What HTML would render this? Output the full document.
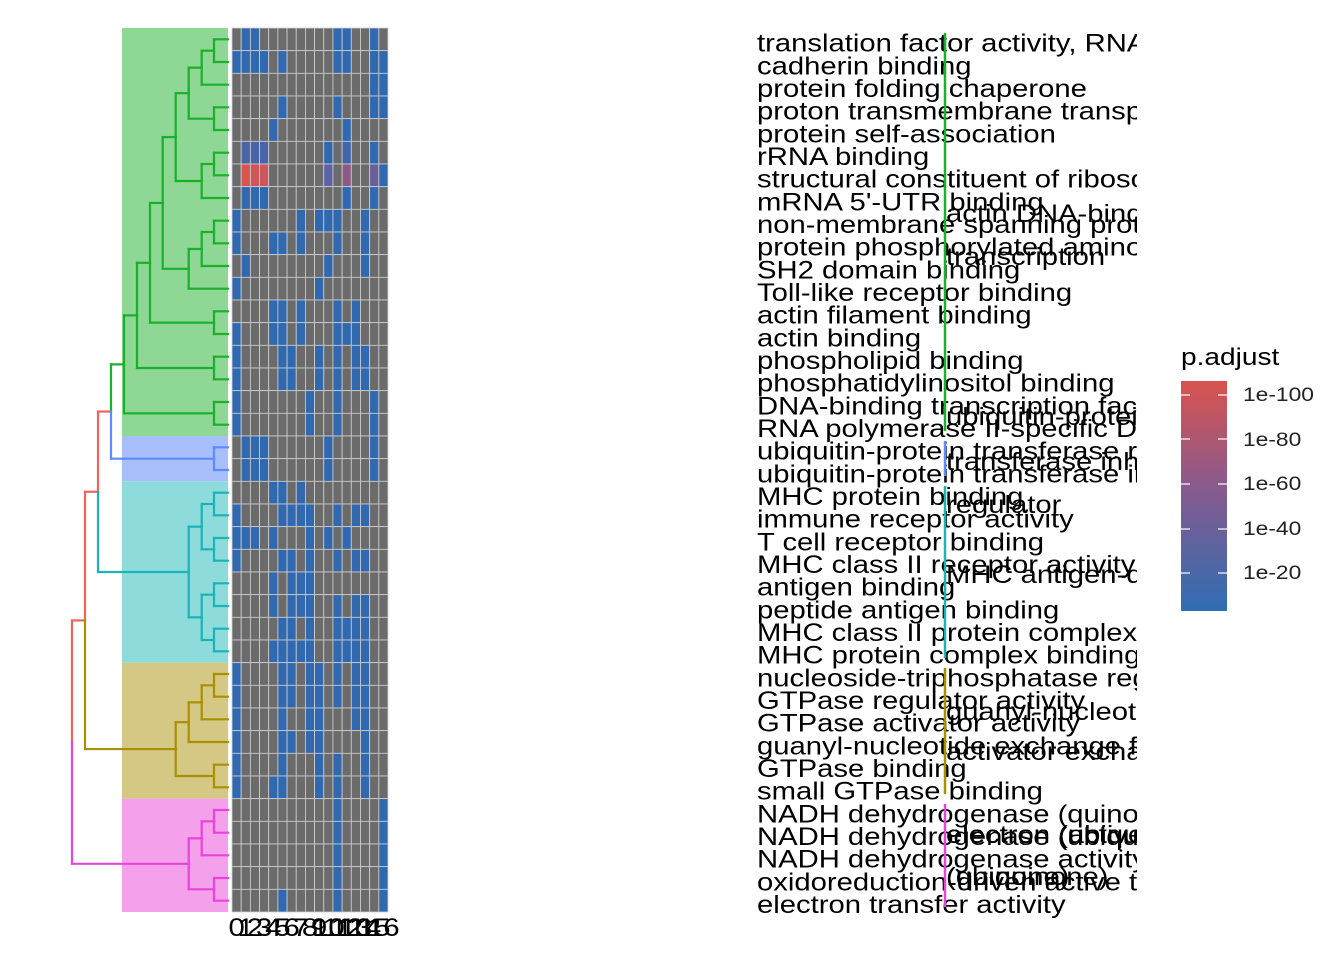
<!DOCTYPE html>
<html><head><meta charset="utf-8"><style>
html,body{margin:0;padding:0;background:#fff;}
svg{display:block;}
text{font-family:"Liberation Sans",Arial,sans-serif;}
</style></head><body>
<svg id="s" width="1344" height="960" viewBox="0 0 1344 960" xmlns="http://www.w3.org/2000/svg">
<defs>
<linearGradient id="lg" x1="0" y1="0" x2="0" y2="1">
<stop offset="0" stop-color="#d9534f"/>
<stop offset="0.45" stop-color="#8a5a8c"/>
<stop offset="1" stop-color="#2f6db3"/>
</linearGradient>
<clipPath id="cl"><rect x="700" y="0" width="437" height="960"/></clipPath>
</defs>
<rect x="122" y="28" width="106" height="408" fill="#8ed794"/>
<rect x="122" y="436" width="106" height="45.3" fill="#a8bffb"/>
<rect x="122" y="481.3" width="106" height="181.4" fill="#8edbdb"/>
<rect x="122" y="662.7" width="106" height="136" fill="#d4c884"/>
<rect x="122" y="798.7" width="106" height="113.3" fill="#f4a0ea"/>
<g id="heat"></g>
<g id="dend" fill="none" stroke-width="2.2" stroke-linecap="square"></g>
<g id="axis" font-size="25" text-anchor="middle"></g>
<g clip-path="url(#cl)">
<g font-size="25" fill="#000" transform="translate(757 0) scale(1.17 1) translate(-757 0)">
<text x="757" y="51.7">translation factor activity, RNA binding</text>
<text x="757" y="74.4">cadherin binding</text>
<text x="757" y="97">protein folding chaperone</text>
<text x="757" y="119.7">proton transmembrane transporter activity</text>
<text x="757" y="142.4">protein self-association</text>
<text x="757" y="165">rRNA binding</text>
<text x="757" y="187.7">structural constituent of ribosome</text>
<text x="757" y="210.4">mRNA 5'-UTR binding</text>
<text x="757" y="233">non-membrane spanning protein tyrosine kinase activity</text>
<text x="757" y="255.7">protein phosphorylated amino acid binding</text>
<text x="757" y="278.4">SH2 domain binding</text>
<text x="757" y="301">Toll-like receptor binding</text>
<text x="757" y="323.7">actin filament binding</text>
<text x="757" y="346.4">actin binding</text>
<text x="757" y="369">phospholipid binding</text>
<text x="757" y="391.7">phosphatidylinositol binding</text>
<text x="757" y="414.4">DNA-binding transcription factor binding</text>
<text x="757" y="437">RNA polymerase II-specific DNA-binding</text>
<text x="757" y="459.7">ubiquitin-protein transferase regulator</text>
<text x="757" y="482.4">ubiquitin-protein transferase inhibitor</text>
<text x="757" y="505">MHC protein binding</text>
<text x="757" y="527.7">immune receptor activity</text>
<text x="757" y="550.4">T cell receptor binding</text>
<text x="757" y="573">MHC class II receptor activity</text>
<text x="757" y="595.7">antigen binding</text>
<text x="757" y="618.4">peptide antigen binding</text>
<text x="757" y="641">MHC class II protein complex binding</text>
<text x="757" y="663.7">MHC protein complex binding</text>
<text x="757" y="686.4">nucleoside-triphosphatase regulator activity</text>
<text x="757" y="709">GTPase regulator activity</text>
<text x="757" y="731.7">GTPase activator activity</text>
<text x="757" y="754.4">guanyl-nucleotide exchange factor activity</text>
<text x="757" y="777">GTPase binding</text>
<text x="757" y="799.7">small GTPase binding</text>
<text x="757" y="822.4">NADH dehydrogenase (quinone) activity</text>
<text x="757" y="845">NADH dehydrogenase (ubiquinone) activity</text>
<text x="757" y="867.7">NADH dehydrogenase activity</text>
<text x="757" y="890.4">oxidoreduction-driven active transport</text>
<text x="757" y="913">electron transfer activity</text>
</g>
<g font-size="25" fill="#000" transform="translate(946 0) scale(1.17 1) translate(-946 0)">
<text x="946" y="222">actin DNA-binding</text>
<text x="946" y="265">transcription</text>
<text x="946" y="425">ubiquitin-protein</text>
<text x="946" y="470">transferase inhibitor</text>
<text x="946" y="513">regulator</text>
<text x="946" y="583">MHC antigen-dependent</text>
<text x="946" y="720">guanyl-nucleotide</text>
<text x="946" y="760">activator exchange</text>
<text x="946" y="843">electron (ubiquinone)</text>
<text x="946" y="843">electron (active</text>
<text x="946" y="885">(ubiquinone)</text>
<text x="946" y="885">(quinone)</text>
</g>
</g>
<g stroke-width="2.5">
<line x1="945" y1="33" x2="945" y2="431" stroke="#19b02b"/>
<line x1="945" y1="441" x2="945" y2="476" stroke="#5b8cff"/>
<line x1="945" y1="486" x2="945" y2="658" stroke="#1ab3b8"/>
<line x1="945" y1="668" x2="945" y2="794" stroke="#a89000"/>
<line x1="945" y1="804" x2="945" y2="907" stroke="#e844db"/>
</g>
<text x="1181" y="365" font-size="24" transform="translate(1181 0) scale(1.17 1) translate(-1181 0)">p.adjust</text>
<rect x="1181" y="381" width="46" height="230" fill="url(#lg)"/>
<g stroke="#fff" stroke-width="1.2">
<line x1="1181" y1="395" x2="1190" y2="395"/><line x1="1218" y1="395" x2="1227" y2="395"/>
<line x1="1181" y1="439" x2="1190" y2="439"/><line x1="1218" y1="439" x2="1227" y2="439"/>
<line x1="1181" y1="484" x2="1190" y2="484"/><line x1="1218" y1="484" x2="1227" y2="484"/>
<line x1="1181" y1="529" x2="1190" y2="529"/><line x1="1218" y1="529" x2="1227" y2="529"/>
<line x1="1181" y1="573" x2="1190" y2="573"/><line x1="1218" y1="573" x2="1227" y2="573"/>
</g>
<g font-size="19" fill="#222" transform="translate(1243 0) scale(1.2 1) translate(-1243 0)">
<text x="1243" y="401">1e-100</text>
<text x="1243" y="446">1e-80</text>
<text x="1243" y="490">1e-60</text>
<text x="1243" y="535">1e-40</text>
<text x="1243" y="579">1e-20</text>
</g>
</svg>
<script>
(function(){
var NS="http://www.w3.org/2000/svg";
function el(t,a,p){var e=document.createElementNS(NS,t);for(var k in a)e.setAttribute(k,a[k]);p.appendChild(e);return e;}
var H=884/39, W=156/17, X0=232, Y0=28;
var rows=[[1,2,11,12,15],[0,1,2,3,5,11,12,15,16],[15,16],[5,11,15,16],[4,12],[1,2,3,10,12,15],[1,2,3,10,12,15,16],[1,2,3,12,15],
[0,7,9,10,11,14],[0,4,5,7,11,14],[1,10,14],[0,9],[4,5,7,11,13],[0,4,5,7,11,12,13],[0,5,6,9,11,13,14],[0,5,6,9,11,13,14],
[0,8,11,15],[0,8,11,15],[1,2,3,10,15],[1,2,3,10,15],[4,5,7],[0,5,6,7,8,11,13,14],[0,1,2,4,8,10,12],[0,5,6,8,11,13,14],
[4,6,7,8],[4,6,7,8,11,13,14],[5,6,8,11,12,13,14],[4,5,6,7,8,11,12,13,14],[0,5,6,8,9,11,13,14],[0,5,6,8,9,11,13,14],
[0,5,8,9,13,14],[0,5,6,8,9,14],[0,5,9,11,14],[0,4,5,9,11,14],[11,16],[11,16],[11,16],[11,16],[5,11,16]];
var special={"5,1":"#4a64a8","5,2":"#4a64a8","5,3":"#4a64a8","6,1":"#d9534f","6,2":"#d0565a","6,3":"#cc585e","6,10":"#5c62a2","6,12":"#8c5a84","6,15":"#6a5f9a","5,12":"#3f66aa"};
var hg=document.getElementById("heat");
for(var r=0;r<39;r++)for(var c=0;c<17;c++){
 var col="#6b6b6b"; if(rows[r].indexOf(c)>=0) col=special[r+","+c]||"#3069b0";
 el("rect",{x:X0+c*W,y:Y0+r*H,width:W,height:H,fill:col,stroke:"#d0d0d0","stroke-width":"0.8"},hg);
}
var ax=document.getElementById("axis");
for(var c=0;c<17;c++){var cx=X0+(c+0.5)*W;var t=el("text",{x:cx,y:936,transform:"translate("+cx+" 0) scale(1.17 1) translate("+(-cx)+" 0)"},ax);t.textContent=String(c);}
function ly(i){return Y0+H*(i+0.5);}
var G="#19b02b",B="#5b8cff",C="#1ab3b8",O="#a89000",M="#e844db",R="#f0645f";
var dg=document.getElementById("dend");
function yy(c){return typeof c==="number"?ly(c):c.y;}
function n(x,a,b,col){return {x:x,a:a,b:b,col:col,y:(yy(a)+yy(b))/2};}
function line(x1,y1,x2,y2,col){el("line",{x1:x1,y1:y1,x2:x2,y2:y2,stroke:col},dg);}
function draw(nd){
 [nd.a,nd.b].forEach(function(ch){
  var cy=yy(ch);
  if(typeof ch==="number"){line(nd.x,cy,228,cy,nd.col);line(nd.x,cy,nd.x,nd.y,nd.col);}
  else{line(nd.x,cy,ch.x,cy,ch.col);line(nd.x,cy,nd.x,nd.y,ch.col);draw(ch);}
 });
}
var g1=n(214,0,1,G),g2=n(201.7,g1,2,G),g3=n(214,3,4,G),g4=n(188.7,g2,g3,G),g5=n(214,5,6,G),g6=n(201.7,g5,7,G),g7=n(175.7,g4,g6,G),
g8=n(214,8,9,G),g9=n(201.7,g8,10,G),g10=n(188.7,g9,11,G),g11=n(162.7,g7,g10,G),g12=n(214,12,13,G),g13=n(150,g11,g12,G),
g14=n(214,14,15,G),g15=n(137,g13,g14,G),g16=n(214,16,17,G),g17=n(124,g15,g16,G);
var b1=n(214,18,19,B);
var r1=n(111,g17,b1,R);
var c1=n(214,20,21,C),c2=n(214,22,23,C),c3=n(201.7,c1,c2,C),c4=n(214,24,25,C),c5=n(214,26,27,C),c6=n(201.7,c4,c5,C),c7=n(188.7,c3,c6,C);
var r2=n(98,r1,c7,R);
var o1=n(214,28,29,O),o2=n(201.7,o1,30,O),o3=n(188.7,o2,31,O),o4=n(214,32,33,O),o5=n(175.7,o3,o4,O);
var r3=n(85,r2,o5,R);
var m1=n(214,34,35,M),m2=n(201.7,m1,36,M),m3=n(214,37,38,M),m4=n(188.7,m2,m3,M);
var root=n(72,r3,m4,R);
draw(root);
})();
</script>
</body></html>
